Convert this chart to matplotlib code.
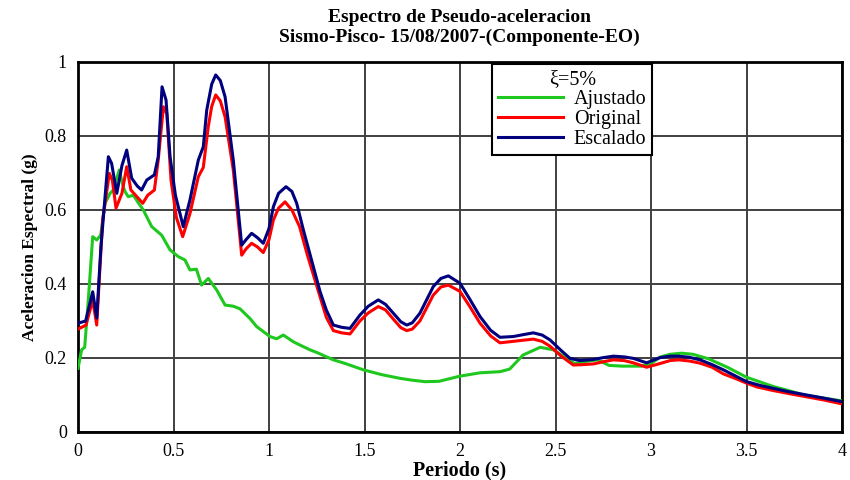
import matplotlib
matplotlib.use("Agg")
import matplotlib.pyplot as plt

# Periods (s) and spectral accelerations (g) for each spectrum
periodo_ajustado = [0, .019, .035, .054, .077, .098, .119, .141, .168, .185, .216, .237, .246, .263,
                    .29, .315, .342, .386, .438, .482, .525, .56, .586, .62, .647, .682, .726, .77,
                    .813, .848, .9, .935, 1.005, 1.04, 1.075, 1.127, 1.162, 1.215, 1.25, 1.337, 1.40,
                    1.494, 1.59, 1.686, 1.75, 1.817, 1.89, 2.0, 2.105, 2.209, 2.26, 2.33, 2.42, 2.49,
                    2.558, 2.60, 2.65, 2.72, 2.78, 2.85, 2.95, 3.0, 3.05, 3.10, 3.16, 3.22, 3.30, 3.40,
                    3.50, 3.64, 3.72, 3.80, 3.90, 4.0]
sa_ajustado = [.172, .222, .229, .357, .528, .519, .532, .618, .645, .654, .708, .663, .65, .636,
               .64, .62, .60, .555, .532, .492, .474, .465, .438, .44, .397, .415, .384, .343,
               .34, .333, .307, .285, .258, .252, .262, .244, .235, .222, .215, .195, .185,
               .168, .155, .145, .14, .136, .137, .151, .160, .163, .17, .208, .229, .222,
               .199, .185, .19, .195, .18, .178, .178, .185, .203, .21, .213, .21, .198, .175,
               .148, .123, .112, .10, .092, .084]

periodo_original = [0, .042, .077, .098, .129, .164, .18, .199, .23, .255, .277, .31, .339, .365, .40,
                    .42, .447, .465, .487, .515, .548, .586, .63, .656, .682, .70, .721, .745, .77,
                    .813, .857, .88, .909, .94, .97, 1.0, 1.023, 1.05, 1.084, 1.12, 1.16, 1.20, 1.267,
                    1.30, 1.337, 1.38, 1.424, 1.476, 1.52, 1.572, 1.61, 1.651, 1.69, 1.721, 1.75, 1.79,
                    1.86, 1.90, 1.939, 2.0, 2.05, 2.105, 2.16, 2.209, 2.279, 2.33, 2.384, 2.43, 2.471,
                    2.53, 2.593, 2.64, 2.70, 2.75, 2.803, 2.86, 2.907, 2.977, 3.047, 3.1, 3.143, 3.2,
                    3.257, 3.32, 3.379, 3.44, 3.501, 3.553, 3.64, 3.72, 3.815, 3.9, 4.0]
sa_original = [.278, .289, .357, .289, .573, .699, .68, .605, .645, .717, .654, .635, .618, .64, .654,
               .735, .879, .86, .681, .58, .528, .59, .69, .715, .825, .88, .911, .895, .852,
               .708, .478, .495, .51, .50, .485, .52, .573, .605, .622, .60, .555, .48, .366,
               .31, .274, .268, .265, .30, .322, .339, .33, .305, .282, .274, .278, .30,
               .37, .392, .397, .38, .34, .294, .26, .241, .245, .248, .251, .245, .232,
               .205, .181, .182, .184, .19, .195, .193, .187, .175, .185, .193, .195, .192,
               .186, .175, .157, .145, .132, .122, .112, .104, .095, .087, .076]

periodo_escalado = [0, .04, .077, .098, .12, .159, .176, .203, .23, .255, .281, .31, .333, .36, .40,
                    .42, .44, .461, .482, .51, .551, .586, .63, .656, .674, .70, .721, .745, .77, .813,
                    .857, .88, .909, .94, .97, 1.0, 1.023, 1.05, 1.089, 1.12, 1.145, 1.18, 1.22, 1.267,
                    1.30, 1.337, 1.38, 1.424, 1.476, 1.52, 1.572, 1.61, 1.651, 1.69, 1.721, 1.75, 1.79,
                    1.86, 1.90, 1.939, 2.0, 2.05, 2.105, 2.16, 2.209, 2.279, 2.33, 2.384, 2.43, 2.471,
                    2.53, 2.576, 2.628, 2.698, 2.75, 2.803, 2.86, 2.907, 2.977, 3.047, 3.1, 3.143, 3.2,
                    3.257, 3.32, 3.379, 3.44, 3.501, 3.57, 3.64, 3.72, 3.815, 3.9, 4.0]
sa_escalado = [.294, .30, .379, .308, .50, .744, .726, .645, .72, .762, .686, .665, .654, .681, .695,
               .744, .933, .897, .744, .64, .555, .627, .735, .771, .870, .94, .965, .95, .906, .735,
               .505, .52, .537, .525, .51, .55, .609, .645, .663, .65, .618, .546, .47, .38,
               .33, .289, .283, .280, .316, .34, .357, .345, .321, .298, .289, .295, .321,
               .393, .415, .422, .402, .36, .312, .275, .256, .258, .263, .268, .262, .249,
               .22, .199, .193, .196, .201, .205, .203, .199, .187, .201, .205, .205, .202,
               .195, .182, .168, .152, .136, .126, .118, .109, .100, .092, .082]

x_ticks = [0, 0.5, 1, 1.5, 2, 2.5, 3, 3.5, 4]
x_tick_labels = ["0", "0.5", "1", "1.5", "2", "2.5", "3", "3.5", "4"]
y_ticks = [0, 0.2, 0.4, 0.6, 0.8, 1]
y_tick_labels = ["0", "0.2", "0.4", "0.6", "0.8", "1"]

plt.rcParams["font.family"] = ["Liberation Serif", "DejaVu Serif"]

fig = plt.figure(figsize=(8.5, 4.8), dpi=100)
ax = fig.add_axes([78 / 850, 1 - 432 / 480, 764 / 850, 370 / 480])

lw = 2.2
ax.plot(periodo_ajustado, sa_ajustado, color="#1ec81e", lw=lw, label="Ajustado", zorder=3)
ax.plot(periodo_original, sa_original, color="#ff0000", lw=lw, label="Original", zorder=4)
ax.plot(periodo_escalado, sa_escalado, color="#00007f", lw=lw, label="Escalado", zorder=5)

ax.set_xlim(0, 4)
ax.set_ylim(0, 1)
ax.set_xticks(x_ticks)
ax.set_xticklabels(x_tick_labels, fontsize=13)
ax.set_yticks(y_ticks)
ax.set_yticklabels(y_tick_labels, fontsize=13)
ax.tick_params(length=0, pad=8)
ax.grid(True, color="#404040", lw=1.4)
ax.set_axisbelow(True)
for s in ax.spines.values():
    s.set_linewidth(2.0)
    s.set_color("black")

ax.set_xlabel("Periodo (s)", fontsize=14.5, fontweight="bold", labelpad=0)
ax.set_ylabel("Aceleracion Espectral (g)", fontsize=12.5, fontweight="bold", labelpad=5)

fig.text(0.541, 0.964, "Espectro de Pseudo-aceleracion", ha="center", va="center",
         fontsize=14, fontweight="bold")
fig.text(0.541, 0.922, "Sismo-Pisco- 15/08/2007-(Componente-EO)", ha="center", va="center",
         fontsize=14, fontweight="bold")

leg = ax.legend(loc="upper left", bbox_to_anchor=(0.542, 0.995), title="ξ=5%",
                fontsize=14.5, title_fontsize=14.5, frameon=True, fancybox=False,
                edgecolor="black", framealpha=1, borderpad=0.3, labelspacing=0.05,
                handlelength=3.2, handletextpad=0.55, borderaxespad=0, alignment="center")
leg.get_frame().set_linewidth(1.5)
leg.set_zorder(10)

fig.savefig("out.png", dpi=100)
